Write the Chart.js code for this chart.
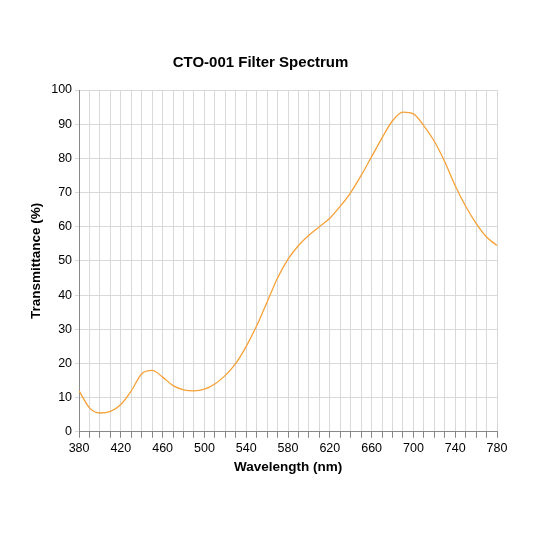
<!DOCTYPE html><html><head><script src="https://cdn.jsdelivr.net/npm/chart.js@4"></script>
<style>body{margin:0;background:#fff}#w{width:533px;height:533px}</style></head><body><div id="w"><canvas id="c"></canvas></div>
<script>
const wavelengths=[380,390,400,410,420,430,440,450,460,470,480,490,500,510,520,530,540,550,560,570,580,590,600,610,620,630,640,650,660,670,680,690,700,710,720,730,740,750,760,770,780];
const transmittance=[12,7,5.5,6,8,12,17,18,16,13.5,12.3,12,12.5,14,16.5,20,25,31,38,45,50.5,54.5,57.5,60,62.5,66,70,75,80.5,86,91,93.5,93,89.5,85,79,72,66,61,57,54.5];
const pts=wavelengths.map((x,i)=>({x,y:transmittance[i]}));
const f='Arial, "Liberation Sans", sans-serif';
new Chart(document.getElementById('c'),{type:'line',data:{datasets:[{data:pts,borderColor:'#f7a138',borderWidth:1.3,pointRadius:0,cubicInterpolationMode:'monotone'}]},
options:{responsive:true,maintainAspectRatio:false,animation:false,
layout:{padding:{top:54,right:36,bottom:58,left:24}},
plugins:{legend:{display:false},title:{display:true,text:'CTO-001 Filter Spectrum',color:'#000',font:{family:f,size:15,weight:'bold'},padding:{bottom:18}}},
scales:{x:{type:'linear',min:380,max:780,ticks:{stepSize:10,autoSkip:false,maxRotation:0,color:'#000',font:{family:f,size:12.5},callback:v=>(v-380)%40===0?v:''},grid:{color:'#d9d9d9',tickColor:'#888',tickLength:6},border:{color:'#888'},
title:{display:true,text:'Wavelength (nm)',color:'#000',font:{family:f,size:13.5,weight:'bold'},padding:0}},
y:{min:0,max:100,ticks:{stepSize:5,color:'#000',font:{family:f,size:12.5}},grid:{color:'#d9d9d9',tickLength:4},border:{color:'#888'},
title:{display:true,text:'Transmittance (%)',color:'#000',font:{family:f,size:13.5,weight:'bold'},padding:4}}}}});
</script></body></html>
